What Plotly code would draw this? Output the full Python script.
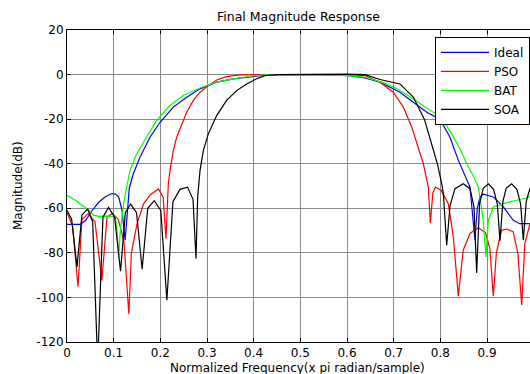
import plotly.graph_objects as go

# ---- data (normalized frequency, magnitude in dB) ----
ideal_f = [0.000, 0.028, 0.0393, 0.0536, 0.0679, 0.0821, 0.0964, 0.1036, 0.1107, 0.1179, 0.1246,
           0.1286, 0.1335, 0.1421, 0.1564, 0.1778, 0.1993, 0.2278, 0.2564, 0.285, 0.3207, 0.3564,
           0.392, 0.424, 0.46, 0.50, 0.55, 0.6028, 0.6385, 0.6707, 0.7135, 0.7421, 0.771, 0.799,
           0.8207, 0.8386, 0.853, 0.8635, 0.8742, 0.879, 0.885, 0.892, 0.9135, 0.935, 0.9564,
           0.97, 0.9921, 1.0]
ideal_db = [-67.2, -67.2, -65.6, -61.1, -57.3, -54.8, -53.4, -53.6, -54.9, -60.9, -74.3,
            -62.0, -51.0, -44.5, -37.1, -28.1, -21.4, -14.6, -10.2, -6.4, -3.4, -1.9,
            -0.9, -0.3, 0.0, 0.0, 0.0, -0.45, -1.5, -3.4, -7.9, -12.4, -16.9, -20.0,
            -28.1, -38.5, -45.2, -50.5, -74.3, -60.0, -55.0, -53.7, -54.9, -59.4, -65.4,
            -66.9, -66.9, -66.9]

pso_f = [0.000, 0.012, 0.0236, 0.032, 0.045, 0.060, 0.0747, 0.0857, 0.0975, 0.110, 0.122, 0.1325,
         0.138, 0.150, 0.164, 0.178, 0.196, 0.206, 0.2121, 0.2171, 0.2207, 0.2278, 0.235, 0.2457,
         0.2564, 0.2707, 0.285, 0.300, 0.3207, 0.342, 0.3707, 0.40, 0.50, 0.60, 0.6385, 0.6707,
         0.6992, 0.7207, 0.7385, 0.7528, 0.7635, 0.7742, 0.7785, 0.784, 0.7900,
         0.802, 0.817, 0.8278, 0.8385, 0.849, 0.8636, 0.8814, 0.897, 0.906, 0.9135, 0.920,
         0.931, 0.9421, 0.956, 0.966, 0.9743, 0.981, 0.9921, 1.0]
pso_db = [-61.8, -68.0, -95.2, -65.0, -62.5, -66.0, -92.4, -64.0, -62.3, -65.0, -75.0, -107.4,
          -80.0, -67.0, -58.0, -54.0, -51.3, -55.0, -73.6, -49.0, -43.1, -34.1, -28.1, -22.1,
          -16.9, -11.6, -7.9, -5.4, -2.4, -0.9, -0.15, 0.0, 0.0, -0.1, -0.45, -3.4,
          -7.9, -14.6, -23.5, -32.5, -40.0, -50.5, -66.6, -53.0, -50.5,
          -52.0, -57.9, -72.8, -99.4, -78.8, -71.3, -68.7, -71.0, -78.0, -99.4, -80.0,
          -69.9, -69.3, -70.5, -80.0, -103.4, -75.8, -67.0, -65.0]

bat_f = [0.000, 0.0179, 0.032, 0.0464, 0.0571, 0.0679, 0.0893, 0.1036, 0.107, 0.1107, 0.1143,
         0.1214, 0.1279, 0.135, 0.1493, 0.1707, 0.192, 0.2207, 0.2493, 0.285, 0.3207, 0.3564,
         0.392, 0.424, 0.46, 0.55, 0.6028, 0.6385, 0.6743, 0.71, 0.742, 0.7714, 0.803,
         0.8243, 0.842, 0.860, 0.8707, 0.8814, 0.892, 0.8978, 0.9028, 0.9135, 0.935, 0.9635, 0.9921, 1.0]
bat_db = [-54.2, -56.4, -58.6, -60.9, -63.1, -63.6, -63.5, -63.9, -69.9, -82.0, -69.9,
          -57.9, -50.6, -43.1, -35.5, -28.1, -20.6, -13.9, -9.4, -6.0, -3.4, -1.9,
          -0.75, -0.15, 0.0, 0.0, -0.45, -1.2, -3.4, -6.6, -10.9, -14.8, -19.4,
          -26.6, -33.3, -41.5, -45.5, -50.5, -65.4, -81.8, -65.4, -59.4, -57.9, -56.4, -54.9, -54.5]

soa_f = [0.000, 0.010, 0.0214, 0.032, 0.0443, 0.055, 0.0657, 0.077, 0.089, 0.102, 0.1147,
         0.125, 0.1364, 0.149, 0.161, 0.173, 0.187, 0.201, 0.214, 0.227, 0.242, 0.2583, 0.270,
         0.2764, 0.280, 0.2814, 0.285, 0.2921, 0.3028, 0.3207, 0.342, 0.3635, 0.385, 0.4064,
         0.424, 0.45, 0.50, 0.55, 0.60, 0.6385, 0.6707, 0.7135, 0.742, 0.7657, 0.7814, 0.7936,
         0.803, 0.8064, 0.8136, 0.8207, 0.8314, 0.8492, 0.8635, 0.8721, 0.8778, 0.884, 0.892,
         0.9028, 0.914, 0.922, 0.9278, 0.934, 0.941, 0.9528, 0.964, 0.972, 0.9778, 0.984, 0.9921, 1.0]
soa_db = [-60.9, -65.0, -86.3, -63.0, -60.4, -66.0, -130.0, -64.0, -59.6, -64.0, -88.2,
          -62.0, -58.1, -62.0, -87.3, -60.0, -56.6, -61.0, -101.3, -57.0, -51.5, -50.5, -56.0,
          -82.6, -55.0, -50.5, -43.1, -34.1, -26.6, -18.4, -11.6, -7.2, -4.2, -1.9,
          -0.45, 0.0, 0.1, 0.2, 0.2, 0.0, -2.2, -4.2, -10.1, -20.0, -31.0, -40.0,
          -49.0, -53.4, -76.6, -58.9, -51.2, -49.0, -51.2, -59.4, -89.0, -58.0, -51.0,
          -49.0, -51.5, -58.0, -74.6, -57.0, -51.0, -49.0, -51.5, -58.0, -74.3, -57.0, -51.0, -49.0]

series = [("Ideal", ideal_f, ideal_db, "#0000ff"),
          ("PSO", pso_f, pso_db, "#ff0000"),
          ("BAT", bat_f, bat_db, "#00ff00"),
          ("SOA", soa_f, soa_db, "#000000")]

x_ticks = [0, 0.1, 0.2, 0.3, 0.4, 0.5, 0.6, 0.7, 0.8, 0.9, 1.0]
x_labels = ["0", "0.1", "0.2", "0.3", "0.4", "0.5", "0.6", "0.7", "0.8", "0.9", "1"]
y_ticks = [20, 0, -20, -40, -60, -80, -100, -120]
y_labels = ["20", "0", "-20", "-40", "-60", "-80", "-100", "-120"]

FONT = "DejaVu Sans"

fig = go.Figure()
for name, fx, fy, col in series:
    fig.add_trace(go.Scatter(x=fx, y=fy, mode="lines", name=name,
                             line=dict(color=col, width=1.2)))

fig.update_layout(
    width=530, height=374,
    margin=dict(l=67, r=0, t=30, b=32),
    paper_bgcolor="white", plot_bgcolor="white",
    font=dict(family=FONT, size=12, color="black"),
    showlegend=True,
    legend=dict(x=1.0, y=0.978, xanchor="right", yanchor="top",
                bgcolor="white", bordercolor="black", borderwidth=1,
                font=dict(family=FONT, size=12, color="black"),
                itemwidth=48, tracegroupgap=0),
    title=dict(text="Final Magnitude Response", x=0.5, xref="paper",
               y=1 - 16.5 / 374, yref="container", yanchor="middle",
               xanchor="center", font=dict(family=FONT, size=12.5, color="black")),
)

fig.update_xaxes(range=[0, 0.9921], tickvals=x_ticks, ticktext=x_labels,
                 showgrid=True, gridcolor="#8a8a8a", gridwidth=1,
                 showline=True, linecolor="black", linewidth=1, mirror="ticks",
                 ticks="inside", ticklen=4, tickcolor="black", zeroline=False,
                 automargin=False, tickfont=dict(family=FONT, size=12, color="black"))
fig.update_yaxes(range=[-120, 20], tickvals=y_ticks, ticktext=y_labels,
                 showgrid=True, gridcolor="#8a8a8a", gridwidth=1,
                 showline=True, linecolor="black", linewidth=1, mirror=False,
                 ticks="inside", ticklen=4, tickcolor="black", zeroline=False,
                 automargin=False, tickfont=dict(family=FONT, size=12, color="black"))

fig.add_annotation(text="Normalized Frequency(x pi radian/sample)", xref="paper", yref="paper",
                   x=(297.5 - 67) / 463, y=-(368 - 342) / 312, xanchor="center", yanchor="middle",
                   showarrow=False, font=dict(family=FONT, size=12, color="black"))
fig.add_annotation(text="Magnitude(dB)", xref="paper", yref="paper",
                   x=-(67 - 18) / 463, y=0.5, xanchor="center", yanchor="middle", textangle=-90,
                   showarrow=False, font=dict(family=FONT, size=12, color="black"))

fig.write_html("out.html")
